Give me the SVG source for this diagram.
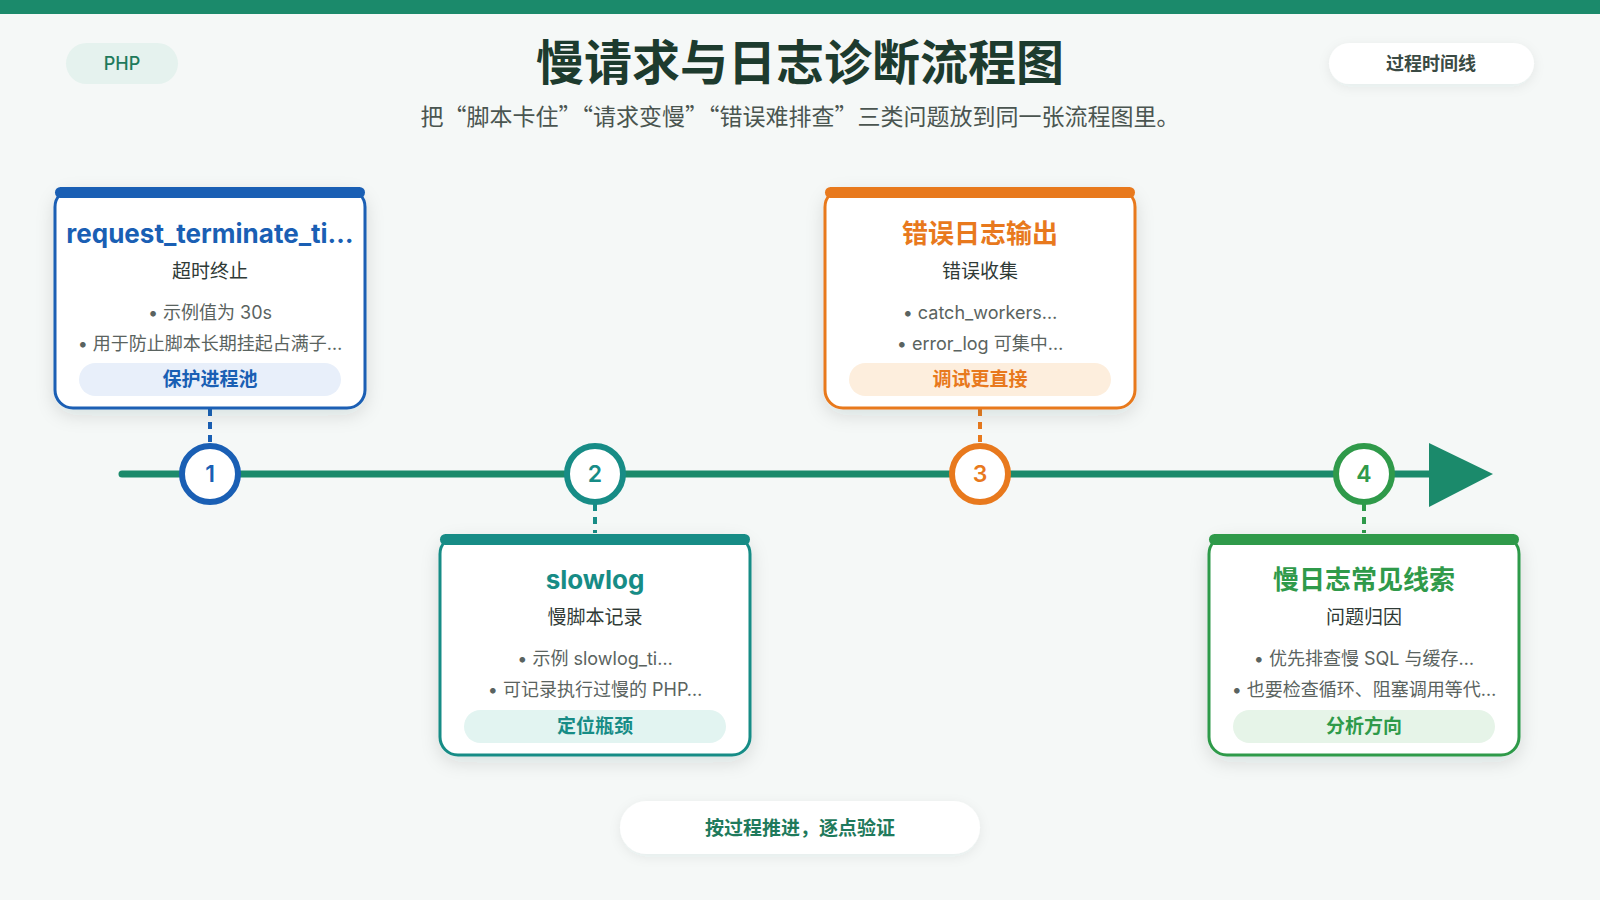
<svg xmlns="http://www.w3.org/2000/svg" width="1600" height="900" viewBox="0 0 1600 900">
<defs>
<filter id="sh" x="-20%" y="-20%" width="140%" height="150%">
<feDropShadow dx="0" dy="6" stdDeviation="9" flood-color="#1c3a30" flood-opacity="0.12"/>
</filter>
<filter id="sh2" x="-20%" y="-40%" width="140%" height="180%">
<feDropShadow dx="0" dy="3" stdDeviation="6" flood-color="#1c3a30" flood-opacity="0.07"/>
</filter>
</defs>
<style>
text{font-family:"Inter","Noto Sans CJK SC",sans-serif;text-anchor:middle}
.title{font-size:48px;font-weight:700;fill:#1d3b2e;font-family:"Noto Sans CJK SC",sans-serif}
.sub{font-size:23px;fill:#4a5550;font-family:"Noto Sans CJK SC",sans-serif}
.ct{font-size:26px;font-weight:700}
.cs{font-size:19px;fill:#2f3a36}
.cb{font-size:18px;fill:#5a6360}
.cp{font-size:19px;font-weight:700}
.num{font-size:23px;font-weight:600}
.card{fill:#ffffff;stroke-width:3}
.dash{stroke-width:4;stroke-dasharray:7 6;fill:none}
</style>
<rect width="1600" height="900" fill="#f5f8f7"/>
<rect width="1600" height="14" fill="#1b8a6b"/>

<g id="header">
<rect x="66" y="43" width="112" height="41" rx="20.5" fill="#e5f2ee"/>
<text x="122" y="70" style="font-size:18px;font-weight:500;fill:#1f7a5c">PHP</text>
<text class="title" x="800" y="80">慢请求与日志诊断流程图</text>
<text class="sub" x="800" y="125">把“脚本卡住”“请求变慢”“错误难排查”三类问题放到同一张流程图里。</text>
<rect x="1329" y="43" width="205" height="41" rx="20.5" fill="#ffffff" filter="url(#sh2)"/>
<text x="1431" y="70" style="font-size:18px;font-weight:700;fill:#3a4a44">过程时间线</text>
</g>

<g id="connectors">
<line x1="122" y1="474" x2="1432" y2="474" stroke="#1b8a6b" stroke-width="7" stroke-linecap="round"/>
<path d="M1429,443 L1493,474 L1429,507 z" fill="#1b8a6b"/>
<line class="dash" x1="210" y1="409" x2="210" y2="444" stroke="#1a5fb4"/>
<line class="dash" x1="595" y1="504" x2="595" y2="533" stroke="#178c86"/>
<line class="dash" x1="980" y1="409" x2="980" y2="444" stroke="#e8791d"/>
<line class="dash" x1="1364" y1="504" x2="1364" y2="533" stroke="#2f9a4a"/>
</g>

<g id="step1">
<circle cx="210" cy="474" r="28" fill="#fff" stroke="#1a5fb4" stroke-width="6"/>
<text class="num" x="210" y="482" fill="#1a5fb4">1</text>
<rect class="card" x="55" y="189" width="310" height="219" rx="18" stroke="#1a5fb4" filter="url(#sh)"/>
<rect x="55" y="187" width="310" height="11" rx="5.5" fill="#1a5fb4"/>
<text class="ct" x="210" y="243" fill="#1a5fb4">request_terminate_ti…</text>
<text class="cs" x="210" y="278">超时终止</text>
<text class="cb" x="210" y="319">• 示例值为 30s</text>
<text class="cb" x="210" y="350">• 用于防止脚本长期挂起占满子…</text>
<rect x="79" y="363" width="262" height="33" rx="16.5" fill="#e8effa"/>
<text class="cp" x="210" y="386" fill="#1a5fb4">保护进程池</text>
</g>

<g id="step2">
<circle cx="595" cy="474" r="28" fill="#fff" stroke="#178c86" stroke-width="6"/>
<text class="num" x="595" y="482" fill="#178c86">2</text>
<rect class="card" x="440" y="536" width="310" height="219" rx="18" stroke="#178c86" filter="url(#sh)"/>
<rect x="440" y="534" width="310" height="11" rx="5.5" fill="#178c86"/>
<text class="ct" x="595" y="589" fill="#178c86">slowlog</text>
<text class="cs" x="595" y="624">慢脚本记录</text>
<text class="cb" x="595" y="665">• 示例 slowlog_ti…</text>
<text class="cb" x="595" y="696">• 可记录执行过慢的 PHP…</text>
<rect x="464" y="710" width="262" height="33" rx="16.5" fill="#e2f4f1"/>
<text class="cp" x="595" y="733" fill="#178c86">定位瓶颈</text>
</g>

<g id="step3">
<circle cx="980" cy="474" r="28" fill="#fff" stroke="#e8791d" stroke-width="6"/>
<text class="num" x="980" y="482" fill="#e8791d">3</text>
<rect class="card" x="825" y="189" width="310" height="219" rx="18" stroke="#e8791d" filter="url(#sh)"/>
<rect x="825" y="187" width="310" height="11" rx="5.5" fill="#e8791d"/>
<text class="ct" x="980" y="243" fill="#e8791d">错误日志输出</text>
<text class="cs" x="980" y="278">错误收集</text>
<text class="cb" x="980" y="319">• catch_workers…</text>
<text class="cb" x="980" y="350">• error_log 可集中…</text>
<rect x="849" y="363" width="262" height="33" rx="16.5" fill="#fdeedd"/>
<text class="cp" x="980" y="386" fill="#e8791d">调试更直接</text>
</g>

<g id="step4">
<circle cx="1364" cy="474" r="28" fill="#fff" stroke="#2f9a4a" stroke-width="6"/>
<text class="num" x="1364" y="482" fill="#2f9a4a">4</text>
<rect class="card" x="1209" y="536" width="310" height="219" rx="18" stroke="#2f9a4a" filter="url(#sh)"/>
<rect x="1209" y="534" width="310" height="11" rx="5.5" fill="#2f9a4a"/>
<text class="ct" x="1364" y="589" fill="#2f9a4a">慢日志常见线索</text>
<text class="cs" x="1364" y="624">问题归因</text>
<text class="cb" x="1364" y="665">• 优先排查慢 SQL 与缓存…</text>
<text class="cb" x="1364" y="696">• 也要检查循环、阻塞调用等代…</text>
<rect x="1233" y="710" width="262" height="33" rx="16.5" fill="#e6f4e8"/>
<text class="cp" x="1364" y="733" fill="#2f9a4a">分析方向</text>
</g>

<g id="footer">
<rect x="620" y="801" width="360" height="53" rx="26.5" fill="#ffffff" filter="url(#sh2)"/>
<text x="800" y="835" style="font-size:19px;font-weight:700;fill:#1f7a5c">按过程推进，逐点验证</text>
</g>
</svg>
